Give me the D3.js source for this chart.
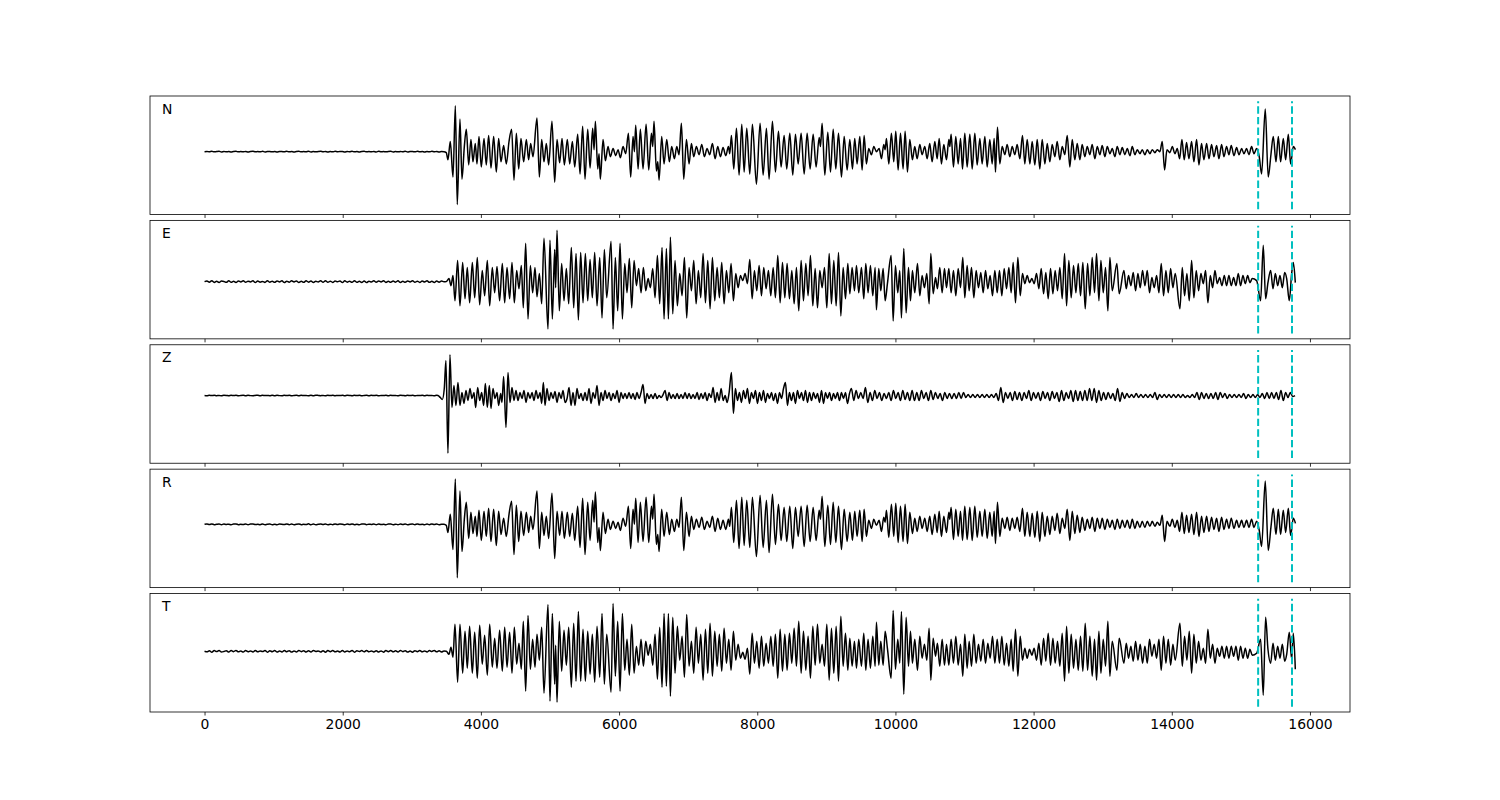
<!DOCTYPE html>
<html><head><meta charset="utf-8">
<script src="https://cdn.jsdelivr.net/npm/d3@7"></script>
<style>body{margin:0;background:#fff}svg{display:block}</style>
</head><body>
<svg id="chart" width="1500" height="800"></svg>
<script>
// ---------------- data ----------------
const channels = ["N", "E", "Z", "R", "T"];
const xTicks = [0, 2000, 4000, 6000, 8000, 10000, 12000, 14000, 16000];
const markerTimes = [15250, 15740];
const noiseStep = 35;

const noiseN = [
0,0.2,-0.1,0.3,-0.2,0.1,0.3,-0.3,0.2,-0.1,
0.1,-0.3,0.2,0.3,-0.2,0.1,-0.1,0.2,-0.3,0.2,
0.3,-0.1,0.1,-0.2,0.3,-0.3,0.1,0.2,-0.2,0.1,
-0.3,0.2,0.1,-0.1,0.3,-0.2,0.2,-0.3,0.1,0.3,
-0.2,0.1,-0.1,0.4,-0.3,0.2,-0.2,0.1,0.3,-0.1,
0.2,-0.3,0.1,-0.2,0.3,-0.1,0.2,0.1,-0.3,0.2,
-0.1,0.3,-0.2,0.1,-0.3,0.2,0.3,-0.2,0.1,-0.1,
0.2,-0.3,0.3,-0.1,0.1,-0.2,0.2,0.3,-0.3,0.1,
-0.2,0.2,-0.1,0.3,-0.3,0.1,0.2,-0.2,0.3,-0.1,
0.1,-0.3,0.2,-0.2,0.3,-0.1,0.2,-0.3,0.1,0];
const noiseE = [
0,0.7,-0.5,0.9,-0.8,0.4,-0.9,0.6,0.2,-0.7,
0.8,-0.6,0.3,-0.9,0.7,-0.4,0.9,-0.7,0.5,-0.3,
0.8,-0.9,0.6,-0.5,0.2,-0.8,0.9,-0.6,0.4,-0.7,
0.7,-0.3,0.8,-0.9,0.5,-0.6,0.9,-0.4,0.7,-0.8,
0.3,-0.7,0.8,-0.5,0.6,-0.9,0.4,-0.3,0.8,-0.6,
0.9,-0.7,0.5,-0.8,0.7,-0.2,0.6,-0.9,0.8,-0.5,
0.4,-0.7,0.9,-0.6,0.3,-0.8,0.7,-0.9,0.5,-0.4,
0.8,-0.6,0.7,-0.3,0.9,-0.8,0.4,-0.7,0.6,-0.5,
0.8,-0.9,0.3,-0.6,0.7,-0.4,0.9,-0.7,0.5,-0.8,
0.6,-0.3,0.8,-0.7,0.4,-0.9,0.7,-0.5,0.6,-0.2];
const noiseZ = [
0,-0.2,0.2,-0.1,0.3,-0.2,0.1,-0.3,0.2,0.1,
-0.2,0.3,-0.1,0.2,-0.3,0.1,0.2,-0.2,0.3,-0.1,
-0.2,0.1,0.3,-0.3,0.2,-0.1,0.1,-0.2,0.3,-0.2,
0.2,-0.1,-0.2,0.3,-0.1,0.2,-0.3,0.1,0.2,-0.2,
0.3,-0.1,0.1,-0.3,0.2,-0.2,0.3,0.1,-0.2,0.1,
-0.3,0.2,-0.1,0.3,-0.2,0.1,-0.1,0.2,-0.3,0.2,
0.1,-0.2,0.3,-0.1,0.2,-0.3,0.1,0.2,-0.2,0.3,
-0.1,0.2,-0.3,0.1,-0.1,0.3,-0.2,0.2,-0.1,0.1,
-0.3,0.2,0.1,-0.2,0.3,-0.1,0.2,-0.3,0.1,-0.1,
0.3,-0.2,0.2,-0.1,0.1,-0.3,0.2,-0.2,0.1,0];
const noiseR = [
0,0.3,-0.2,0.4,-0.3,0.1,0.4,-0.4,0.3,-0.1,
0.2,-0.4,0.3,0.4,-0.3,0.1,-0.2,0.3,-0.4,0.3,
0.4,-0.2,0.1,-0.3,0.4,-0.4,0.2,0.3,-0.3,0.1,
-0.4,0.3,0.1,-0.2,0.4,-0.3,0.3,-0.4,0.2,0.4,
-0.3,0.1,-0.2,0.5,-0.4,0.3,-0.3,0.1,0.4,-0.2,
0.3,-0.4,0.2,-0.3,0.4,-0.1,0.3,0.1,-0.4,0.3,
-0.2,0.4,-0.3,0.1,-0.4,0.3,0.4,-0.3,0.2,-0.1,
0.3,-0.4,0.4,-0.2,0.1,-0.3,0.3,0.4,-0.4,0.2,
-0.3,0.3,-0.1,0.4,-0.4,0.2,0.3,-0.3,0.4,-0.2,
0.1,-0.4,0.3,-0.3,0.4,-0.2,0.3,-0.4,0.2,0];
const noiseT = [
0,-0.6,0.5,-0.9,0.7,-0.3,0.8,-0.7,-0.2,0.6,
-0.8,0.7,-0.4,0.9,-0.6,0.3,-0.8,0.7,-0.5,0.4,
-0.7,0.9,-0.6,0.4,-0.3,0.8,-0.9,0.5,-0.4,0.7,
-0.8,0.3,-0.7,0.9,-0.5,0.6,-0.8,0.3,-0.7,0.9,
-0.4,0.6,-0.8,0.5,-0.7,0.9,-0.3,0.4,-0.8,0.6,
-0.9,0.7,-0.4,0.8,-0.6,0.2,-0.7,0.9,-0.8,0.4,
-0.5,0.8,-0.9,0.5,-0.3,0.7,-0.6,0.9,-0.5,0.3,
-0.7,0.6,-0.8,0.4,-0.9,0.7,-0.4,0.8,-0.6,0.5,
-0.7,0.9,-0.4,0.6,-0.8,0.3,-0.9,0.6,-0.5,0.8,
-0.6,0.4,-0.7,0.8,-0.3,0.9,-0.6,0.5,-0.7,0.2];

// extrema times (samples) shared by N and R
const timesNR = [
3499,3523,3557,3596,3630,3658,3697,3726,3760,3789,
3823,3856,3885,3919,3943,3972,4006,4045,4078,4112,
4146,4185,4223,4257,4291,4329,4368,4407,4445,4479,
4513,4547,4580,4619,4658,4691,4720,4754,4812,4846,
4880,4913,4947,4981,5029,5068,5102,5140,5174,5208,
5251,5285,5324,5358,5401,5435,5473,5507,5546,5580,
5618,5638,5657,5691,5710,5729,5768,5802,5840,5874,
5913,5951,5985,6019,6057,6096,6135,6168,6202,6222,
6241,6275,6308,6347,6391,6429,6468,6487,6506,6540,
6560,6579,6617,6651,6690,6728,6762,6801,6835,6868,
6902,6936,6975,7013,7047,7081,7119,7158,7197,7235,
7274,7312,7351,7390,7428,7467,7505,7544,7583,7602,
7626,7660,7699,7737,7776,7810,7848,7892,7930,7988,
8041,8085,8133,8171,8220,8263,8307,8345,8389,8427,
8471,8514,8553,8592,8635,8679,8722,8765,8809,8852,
8896,8915,8939,8978,9021,9060,9099,9137,9176,9219,
9258,9301,9340,9378,9411,9445,9484,9518,9547,9580,
9614,9653,9687,9725,9764,9798,9831,9851,9870,9904,
9942,9976,10005,10039,10073,10111,10140,10174,10208,10246,
10280,10314,10353,10386,10425,10459,10497,10531,10570,10604,
10633,10666,10700,10739,10773,10787,10806,10840,10874,10908,
10942,10971,11004,11038,11077,11111,11149,11183,11222,11255,
11294,11328,11366,11400,11429,11448,11477,11511,11545,11584,
11617,11656,11690,11728,11762,11801,11839,11873,11907,11946,
11979,12018,12052,12090,12124,12163,12197,12235,12269,12308,
12341,12380,12414,12452,12486,12525,12559,12597,12631,12670,
12703,12742,12776,12814,12848,12887,12921,12959,12993,13032,
13066,13104,13138,13177,13210,13249,13283,13321,13355,13394,
13428,13466,13500,13539,13572,13611,13645,13683,13717,13756,
13790,13828,13862,13896,13930,13973,14007,14045,14079,14113,
14147,14180,14214,14248,14287,14320,14359,14393,14431,14465,
14504,14538,14576,14610,14649,14682,14721,14755,14793,14827,
14861,14900,14938,14972,15011,15044,15083,15117,15155,15189,
15228,15266,15300,15353,15396,15435,15469,15508,15542,15575,
15614,15648,15687,15720,15759,15790];

const ampN = [
-1,-8,10,-25,45,-52,32,-27,5,22,
-13,12,-10,8,-12,15,-15,13,-13,16,
-16,15,-20,13,-10,6,-12,10,22,-28,
18,-17,13,-10,12,-8,8,-5,33,-25,
12,-10,8,-13,30,-30,12,-11,13,-13,
12,-12,10,-15,17,-22,25,-27,22,-16,
23,2,30,-17,-2,-27,12,-9,5,-5,
3,-4,2,-6,5,-2,18,-25,15,0,
26,-17,22,-17,27,-18,18,5,30,-19,
-10,-28,15,-12,12,-10,5,-7,5,-3,
28,-27,12,-12,8,-5,5,-3,7,-5,
3,-3,8,-7,5,-5,4,-4,5,-2,
16,-17,23,-23,27,-20,23,-22,27,-32,
28,-23,23,-27,30,-20,20,-15,16,-17,
18,-23,17,-12,18,-22,18,-17,17,-15,
14,5,28,-23,19,-20,22,-17,18,-25,
15,-18,12,-17,13,-12,15,-18,16,-12,
3,-3,5,0,3,-7,7,2,13,-12,
18,-10,20,-18,18,-17,20,-20,12,-8,
5,-7,7,-3,5,-7,8,-10,10,-7,
13,-12,7,-8,12,5,17,-15,15,-12,
13,-17,18,-15,17,-17,18,-13,13,-12,
15,-15,12,-12,13,-20,24,-12,5,-3,
7,-5,5,-3,7,-7,16,-12,12,-12,
10,-13,12,-17,12,-12,8,-10,7,-5,
10,-8,5,-3,16,-15,12,-8,8,-8,
7,-5,5,-3,7,-7,5,-3,6,-5,
5,-2,3,-5,5,-3,4,-3,3,-4,
5,-3,2,-2,2,-3,2,-2,2,-1,
2,0,10,-18,2,-1,5,-2,3,-7,
12,-8,9,-7,10,-10,12,-13,8,-8,
8,-7,7,-5,6,-7,7,-5,5,-3,
6,-4,4,-3,3,-2,3,-3,5,-2,
3,-5,-22,42,-25,-3,15,-10,15,-10,
13,-8,17,-12,5,2];

const ampR = [
-1,-8,10,-25,45,-53,33,-27,5,22,
-14,12,-9,8,-12,14,-16,13,-12,16,
-17,15,-21,13,-10,6,-12,10,23,-30,
19,-17,13,-11,12,-8,8,-5,33,-24,
12,-11,8,-14,31,-34,13,-11,13,-14,
12,-12,11,-16,18,-23,26,-30,22,-16,
24,2,32,-18,-3,-26,12,-9,5,-5,
3,-4,2,-6,6,-2,18,-24,15,0,
26,-18,22,-17,27,-18,18,5,30,-20,
-10,-27,15,-12,12,-10,5,-7,5,-3,
27,-26,12,-12,8,-5,5,-3,7,-5,
3,-3,8,-7,6,-5,4,-5,5,-2,
17,-18,24,-24,27,-21,24,-23,27,-32,
29,-23,24,-28,30,-20,20,-16,17,-17,
18,-24,17,-12,18,-22,19,-17,17,-16,
14,5,28,-22,19,-20,22,-18,18,-25,
15,-17,12,-16,13,-12,14,-17,15,-12,
4,-4,5,-1,4,-7,7,2,14,-13,
20,-12,21,-18,18,-17,20,-19,12,-9,
6,-7,8,-4,6,-7,8,-10,10,-8,
13,-12,8,-8,12,5,17,-15,15,-12,
13,-16,18,-15,17,-16,18,-13,13,-12,
15,-14,12,-12,13,-19,22,-12,6,-4,
7,-6,6,-4,7,-7,16,-12,12,-12,
11,-13,13,-17,12,-12,8,-10,8,-6,
11,-9,6,-4,15,-16,13,-9,9,-8,
7,-6,5,-4,7,-7,6,-4,6,-5,
5,-3,4,-5,5,-4,4,-3,4,-4,
5,-4,3,-3,3,-3,3,-2,3,-2,
2,-1,9,-17,3,-2,5,-3,4,-7,
12,-9,9,-8,10,-10,12,-12,8,-8,
8,-7,7,-5,6,-7,7,-5,5,-4,
6,-4,4,-3,4,-3,4,-3,5,-3,
3,-6,-22,43,-26,-3,16,-10,15,-10,
14,-8,16,-11,6,1];

// extrema times (samples) shared by E and T
const timesET = [
3499,3538,3567,3596,3625,3663,3697,3736,3770,3803,
3837,3876,3910,3948,3982,4020,4054,4093,4127,4165,
4199,4233,4271,4310,4344,4378,4416,4450,4484,4518,
4551,4585,4614,4648,4682,4716,4749,4783,4812,4846,
4880,4913,4971,5000,5034,5068,5082,5102,5135,5169,
5203,5237,5271,5309,5343,5377,5411,5444,5478,5512,
5546,5580,5613,5647,5681,5720,5753,5787,5821,5884,
5913,5946,5980,6014,6048,6082,6115,6149,6183,6217,
6251,6284,6318,6352,6386,6420,6453,6487,6521,6555,
6588,6622,6651,6685,6714,6743,6777,6810,6844,6878,
6912,6946,6979,7013,7047,7081,7115,7148,7182,7216,
7250,7284,7317,7351,7385,7419,7452,7486,7520,7554,
7588,7621,7655,7689,7723,7757,7790,7824,7858,7892,
7926,7959,7993,8027,8061,8094,8128,8162,8196,8230,
8263,8297,8331,8365,8399,8432,8466,8500,8534,8567,
8601,8635,8669,8703,8736,8770,8804,8838,8872,8905,
8939,8973,9007,9041,9074,9108,9142,9176,9210,9243,
9277,9311,9340,9373,9407,9436,9469,9508,9542,9571,
9604,9638,9672,9706,9725,9759,9788,9822,9851,9884,
9938,9967,10000,10034,10063,10087,10121,10155,10189,10218,
10246,10280,10319,10353,10386,10420,10454,10488,10512,10546,
10580,10608,10642,10676,10710,10739,10773,10806,10840,10874,
10908,10942,10975,11004,11038,11067,11101,11135,11168,11202,
11236,11270,11304,11337,11371,11405,11439,11473,11506,11540,
11574,11608,11642,11675,11704,11738,11772,11806,11839,11873,
11907,11941,11975,12008,12042,12076,12110,12144,12177,12211,
12245,12279,12312,12346,12380,12414,12448,12477,12510,12544,
12578,12612,12646,12679,12713,12747,12781,12815,12848,12882,
12911,12945,12974,13008,13041,13075,13104,13138,13205,13239,
13307,13341,13374,13408,13442,13476,13510,13543,13577,13611,
13645,13678,13712,13746,13780,13814,13847,13881,13915,13949,
13983,14016,14050,14118,14152,14185,14219,14253,14287,14320,
14354,14388,14422,14456,14489,14523,14557,14591,14625,14658,
14692,14726,14760,14793,14827,14861,14895,14929,14962,14996,
15030,15064,15098,15131,15165,15228,15286,15324,15358,15392,
15431,15465,15499,15533,15566,15600,15634,15663,15701,15735,
15759,15788];

const ampE = [
0,3,-4,6,-19,21,-24,19,-17,14,
-21,19,-16,24,-23,11,-14,21,-24,14,
-11,15,-19,18,-21,14,-17,19,-21,11,
-7,16,-26,38,-37,16,-11,14,-15,8,
-22,43,-47,41,-37,32,-6,51,-29,18,
-19,13,-22,34,-26,28,-38,29,-21,28,
-19,22,-16,29,-24,24,-36,32,-16,40,
-47,24,-29,38,-37,18,-11,23,-26,21,
-4,13,-11,14,-9,3,-6,13,-16,26,
-22,34,-37,33,-37,44,-32,21,-24,8,
-14,24,-36,14,-9,21,-22,11,-16,28,
-21,21,-27,24,-19,14,-16,19,-22,11,
-11,18,-19,8,-6,6,1,8,-2,22,
-17,11,-9,16,-14,14,-7,11,-14,14,
-16,26,-21,19,-16,18,-17,11,-22,14,
-29,21,-19,18,-14,26,-24,13,-26,11,
-6,14,-26,28,-22,21,-24,29,-34,14,
-17,18,-12,14,-9,16,-11,14,-17,18,
-11,16,-14,14,-28,13,-9,13,-19,-2,
26,-39,16,-11,11,-36,33,-31,14,-19,
11,-11,18,-14,6,-6,8,-22,28,-12,
4,-7,14,-11,13,-6,13,-11,11,-14,
13,-6,24,-16,16,-9,14,-16,11,-6,
9,-11,11,-7,6,-14,11,-11,11,-14,
13,-7,14,-11,19,-21,24,-14,8,-2,
6,-1,3,-2,8,-7,13,-12,9,-17,
13,-12,11,-9,14,-17,28,-24,21,-16,
16,-11,18,-14,19,-27,18,-14,24,-11,
28,-19,21,-11,14,-29,24,-9,18,-12,
11,-7,6,-4,9,-9,8,-6,11,-4,
11,-11,4,-6,6,-11,18,-14,11,-11,
13,-6,8,-27,14,-14,8,-19,21,-16,
11,-9,8,-2,11,-21,6,-6,11,-2,
4,-4,6,-4,6,-4,4,-4,8,-4,
6,-2,6,-1,3,1,-19,36,-17,-1,
11,-7,8,-4,6,-6,9,3,-19,8,
19,-1];

const ampT = [
0,-3,4,-6,27,-31,27,-22,20,-17,
25,-22,19,-27,26,-13,16,-24,27,-16,
13,-17,21,-20,24,-16,19,-22,24,-13,
8,-18,30,-40,36,-18,12,-16,17,-9,
24,-42,47,-50,38,-33,6,-51,30,-20,
21,-14,24,-36,28,-30,40,-30,22,-30,
20,-23,17,-31,25,-26,38,-33,17,-41,
48,-25,30,-40,38,-19,12,-24,27,-22,
5,-14,12,-15,10,-4,7,-14,17,-28,
24,-36,38,-35,38,-45,34,-22,25,-9,
15,-26,37,-15,10,-22,24,-12,17,-29,
22,-22,28,-25,20,-15,17,-20,23,-12,
12,-19,20,-9,7,-7,-1,-8,3,-23,
18,-12,10,-17,15,-15,8,-12,15,-15,
17,-27,22,-20,17,-19,18,-12,23,-15,
30,-22,20,-19,15,-27,25,-14,27,-12,
7,-15,27,-29,23,-22,25,-30,35,-15,
18,-19,13,-15,10,-17,12,-15,18,-19,
12,-17,15,-15,29,-14,10,-14,20,3,
-27,41,-18,12,-12,40,-43,34,-15,20,
-12,12,-19,15,-7,7,-9,23,-29,13,
-5,8,-15,12,-14,7,-14,12,-12,15,
-14,7,-25,17,-17,10,-15,17,-12,7,
-10,12,-12,8,-7,15,-12,12,-12,15,
-14,8,-15,12,-20,22,-25,15,-9,3,
-7,2,-4,3,-9,8,-14,13,-10,18,
-14,13,-12,10,-15,18,-30,25,-22,17,
-17,12,-19,15,-20,28,-19,15,-25,12,
-29,20,-22,12,-15,30,-25,10,-19,13,
-12,8,-7,5,-10,10,-9,7,-12,5,
-12,12,-5,7,-7,12,-19,15,-12,12,
-14,7,-9,28,-15,15,-9,20,-22,17,
-12,10,-9,3,-12,22,-7,7,-12,3,
-5,5,-7,5,-7,5,-5,5,-9,5,
-7,3,-7,2,-4,-2,12,-44,34,2,
-12,8,-9,5,-7,7,-10,-3,19,-8,
18,-18];

// Z: irregular extrema for the early part, then a regularly sampled tail
const timesZ = [
3378,3412,3441,3470,3494,3523,3552,3581,3610,3639,
3668,3697,3726,3755,3784,3813,3842,3871,3900,3924,
3953,3982,4011,4040,4064,4093,4122,4146,4175,4204,
4233,4257,4286,4305,4329,4363,4392,4421,4450,4479,
4508,4537,4566,4595,4624,4653,4682,4711,4740,4769,
4798,4827,4856,4880,4904,4928,4957,4986,5015,5044,
5073,5102,5131,5160,5189,5218,5247,5276,5305,5333,
5362,5391,5420,5449,5478,5507,5536,5565,5594,5623,
5652,5681,5710,5739,5768,5797,5826,5855,5884,5913,
5942,5971,6000,6029,6057,6086,6115,6144,6173,6202,
6231,6260,6289,6318,6347,6376,6405,6434,6463,6492,
6521,6550,6579,6608,6637,6666,6695,6724,6753,6782,
6811,6840,6868,6897,6926,6955,6984,7013,7042,7071,
7100,7129,7158,7187,7216,7245,7274,7303,7332,7361,
7390,7419,7448,7477,7506,7535,7564,7593,7626,7655,
7684,7713,7742,7771,7800,7829,7858,7887,7916,7945,
7974,8003,8032,8061,8090,8119,8148,8177,8206,8235,
8264,8293,8322,8351,8380,8408,8437,8466,8495,8524,
8553,8582,8611,8640,8669,8698,8727,8756,8785,8814,
8843,8872,8901,8930,8959,8988,9017,9046,9075,9104,
9132,9161,9190,9219,9248,9277,9306,9335];

const ampZ = [
0,-2,-4,7,35,-58,41,-12,10,-10,
13,-10,3,-8,5,-5,7,-3,3,-12,
8,-5,3,-10,12,-12,10,-13,7,-3,
3,-10,2,-7,19,-32,23,-7,8,-5,
5,-5,3,-3,5,-7,3,-3,3,-5,
5,-3,3,-8,13,-10,7,-5,3,-3,
4,-7,3,-3,5,-7,-3,8,-10,3,
-10,7,-3,2,-5,3,-5,7,-8,3,
-3,10,-10,3,-5,5,-3,3,-5,2,
-3,5,-7,3,-3,2,-3,3,-3,2,
-4,3,-3,3,11,-8,2,-3,1,-3,
2,-3,0,-2,1,5,-5,3,-3,1,
-3,2,-3,1,-3,3,-3,2,-3,1,
-3,3,-4,2,-3,3,-5,2,-2,8,
-7,3,-5,7,-5,0,-7,3,23,-18,
7,-5,3,-7,5,-3,7,-8,3,-3,
5,-8,3,-5,5,-7,2,-3,3,-5,
2,-8,3,-3,7,13,-10,3,-5,3,
-8,5,-3,3,-5,5,-7,3,-5,3,
-3,2,-7,5,-8,3,-3,3,-5,2,
-3,3,-5,3,-3,3,-8,2];

const zTailStart = 9363;
const zTailStep = 33.79;
const ampZTail = [
7,-5,5,-3,3,-3,8,-7,3,-5,
5,-3,3,-5,2,-3,3,-5,5,-3,
3,-5,5,-4,3,-5,5,-5,3,-5,
5,-3,3,-5,5,-4,3,-3,2,-5,
3,-3,2,-3,2,-3,3,-3,3,-2,
1,-2,1,-2,1,-2,1,-2,1,-2,
1,-2,2,-5,8,-7,3,-3,3,-5,
4,-4,3,-5,3,-3,5,-5,3,-3,
3,-5,4,-3,3,-5,4,-3,3,-6,
5,-5,3,-3,5,-6,5,-5,4,-5,
5,-5,7,-5,7,-7,5,-5,3,-4,
3,-3,2,-5,7,-6,3,-3,2,-2,
1,-2,2,-2,1,-2,1,-2,1,-2,
3,-4,1,-2,1,-2,1,-2,1,-2,
1,-2,1,-2,0,-2,1,-2,3,-4,
3,-3,2,-3,2,-3,3,-4,3,-2,
2,-3,1,-2,1,-2,1,-2,2,-3,
1,-2,1,-2,1,-2,2,-3,3,-3,
3,-3,3,-4,5,-5,3,-2,3,-1,
0];

// ---------------- build series ----------------
function buildSeries(noise, times, amps) {
  const pts = [];
  const tStart = times[0];
  noise.forEach((v, i) => { const t = i * noiseStep; if (t < tStart - 10) pts.push([t, v]); });
  const n = Math.min(times.length, amps.length);
  for (let i = 0; i < n; i++) pts.push([times[i], amps[i]]);
  return pts;
}
const zTimesAll = timesZ.concat(ampZTail.map((_, i) => zTailStart + i * zTailStep));
const zAmpsAll = ampZ.concat(ampZTail);

const series = {
  N: buildSeries(noiseN, timesNR, ampN),
  E: buildSeries(noiseE, timesET, ampE),
  Z: buildSeries(noiseZ, zTimesAll, zAmpsAll),
  R: buildSeries(noiseR, timesNR, ampR),
  T: buildSeries(noiseT, timesET, ampT)
};

// ---------------- layout ----------------
const svg = d3.select("#chart");
svg.append("rect").attr("width", 1500).attr("height", 800).attr("fill", "#fff");
const left = 150, right = 1350, top0 = 96, bottom0 = 712;
const nP = channels.length, hspace = 0.05;
const H = (bottom0 - top0) / (nP + (nP - 1) * hspace);
const gap = H * hspace;

const tMax = d3.max(channels, c => d3.max(series[c], d => d[0]));
const tMin = 0;
const span = tMax - tMin;
const x = d3.scaleLinear().domain([tMin - 0.05 * span, tMax + 0.05 * span]).range([left, right]);

const line = d3.line().curve(d3.curveMonotoneX);

channels.forEach((ch, i) => {
  const top = top0 + i * (H + gap);
  const bot = top + H;
  const data = series[ch];
  const lo = d3.min(data, d => d[1]), hi = d3.max(data, d => d[1]);
  const pad = 0.1 * (hi - lo);
  const y = d3.scaleLinear().domain([lo - pad, hi + pad]).range([bot, top]);
  const g = svg.append("g");

  const clipId = "clip" + i;
  svg.append("clipPath").attr("id", clipId).append("rect")
    .attr("x", left).attr("y", top).attr("width", right - left).attr("height", H);

  g.append("path")
    .attr("clip-path", `url(#${clipId})`)
    .attr("d", line.x(d => x(d[0])).y(d => y(d[1]))(data))
    .attr("fill", "none").attr("stroke", "#000").attr("stroke-width", 1.5)
    .attr("stroke-linejoin", "round").attr("stroke-linecap", "butt");

  markerTimes.forEach(t => {
    const xp = x(t);
    g.append("path")
      .attr("d", `M${xp},${bot - 0.045 * H}L${xp},${top + 0.045 * H}`)
      .attr("stroke", "#00bfbf").attr("stroke-width", 2)
      .attr("stroke-dasharray", "7.4,3.2").attr("fill", "none");
  });

  // frame
  g.append("rect").attr("x", left).attr("y", top).attr("width", right - left).attr("height", H)
    .attr("fill", "none").attr("stroke", "#000").attr("stroke-width", 0.8);

  // ticks (bottom, outward)
  const axis = d3.axisBottom(x).tickValues(xTicks).tickSizeInner(3.5).tickSizeOuter(0).tickPadding(3.5)
    .tickFormat(i === nP - 1 ? d3.format("d") : () => "");
  const ag = g.append("g").attr("transform", `translate(0,${bot})`).call(axis);
  ag.select(".domain").remove();
  ag.selectAll(".tick line").attr("stroke", "#000").attr("stroke-width", 0.8);
  ag.selectAll(".tick text").attr("fill", "#000")
    .attr("font-family", "DejaVu Sans, sans-serif").attr("font-size", "13.9px");

  g.append("text").attr("x", left + 12).attr("y", top + 17.5)
    .attr("font-family", "DejaVu Sans, sans-serif").attr("font-size", "13.9px")
    .attr("fill", "#000").text(ch);
});
</script>
</body></html>
